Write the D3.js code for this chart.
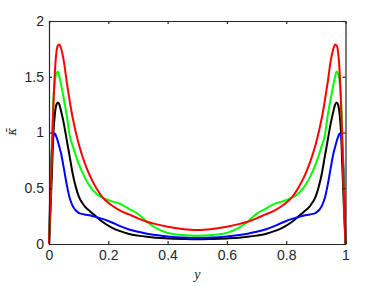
<!DOCTYPE html>
<html>
<head>
<meta charset="utf-8">
<script src="https://cdn.jsdelivr.net/npm/d3@7"></script>
<style>
  html, body { margin: 0; padding: 0; background: #fff; }
  svg { display: block; }
  .axis text { font-family: "Liberation Sans", Arial, sans-serif; font-size: 14px; fill: #262626; }
  .axis path, .axis line { stroke: #262626; stroke-width: 1.2; }
</style>
</head>
<body>
<svg width="382" height="286"></svg>
<script>
// sample positions along y (0..1)
const yPos = [0, 0.005, 0.01, 0.015, 0.02, 0.025, 0.03, 0.035, 0.04, 0.05, 0.06, 0.07, 0.08, 0.1, 0.12, 0.14, 0.16, 0.18, 0.21, 0.24, 0.27, 0.3, 0.33, 0.36, 0.4, 0.45,
              0.5,
              0.55, 0.6, 0.64, 0.67, 0.7, 0.73, 0.76, 0.79, 0.82, 0.84, 0.86, 0.88, 0.9, 0.92, 0.93, 0.94, 0.95, 0.96, 0.965, 0.97, 0.975, 0.98, 0.985, 0.99, 0.995, 1];

const kappaRed = [0, 0.4, 0.85, 1.25, 1.55, 1.72, 1.78, 1.79, 1.76, 1.64, 1.45, 1.28, 1.13, 0.9, 0.73, 0.6, 0.5, 0.42, 0.35, 0.3, 0.265, 0.23, 0.2, 0.178, 0.155, 0.135,
                  0.126,
                  0.135, 0.155, 0.178, 0.2, 0.23, 0.265, 0.3, 0.35, 0.42, 0.5, 0.6, 0.73, 0.9, 1.13, 1.28, 1.45, 1.64, 1.76, 1.79, 1.78, 1.72, 1.55, 1.25, 0.85, 0.4, 0];

const kappaGreen = [0, 0.45, 0.9, 1.3, 1.46, 1.53, 1.545, 1.5, 1.44, 1.3, 1.15, 0.97, 0.88, 0.72, 0.6, 0.51, 0.45, 0.415, 0.385, 0.36, 0.315, 0.27, 0.2, 0.145, 0.1, 0.08,
                    0.073,
                    0.08, 0.1, 0.145, 0.2, 0.27, 0.315, 0.36, 0.385, 0.415, 0.45, 0.51, 0.6, 0.72, 0.88, 0.97, 1.15, 1.3, 1.44, 1.5, 1.545, 1.53, 1.46, 1.3, 0.9, 0.45, 0];

const kappaBlack = [0, 0.3, 0.65, 1.0, 1.17, 1.25, 1.27, 1.25, 1.2, 1.08, 0.93, 0.78, 0.63, 0.43, 0.34, 0.29, 0.245, 0.2, 0.15, 0.115, 0.09, 0.075, 0.064, 0.056, 0.05, 0.045,
                    0.042,
                    0.045, 0.05, 0.056, 0.064, 0.075, 0.09, 0.115, 0.15, 0.2, 0.245, 0.29, 0.34, 0.43, 0.63, 0.78, 0.93, 1.08, 1.2, 1.25, 1.27, 1.25, 1.17, 1.0, 0.65, 0.3, 0];

const kappaBlue = [0, 0.55, 0.85, 0.97, 0.99, 0.96, 0.92, 0.87, 0.82, 0.68, 0.53, 0.41, 0.34, 0.28, 0.265, 0.255, 0.24, 0.225, 0.195, 0.16, 0.13, 0.11, 0.092, 0.08, 0.068, 0.058,
                   0.055,
                   0.058, 0.068, 0.08, 0.092, 0.11, 0.13, 0.16, 0.195, 0.225, 0.24, 0.255, 0.265, 0.28, 0.34, 0.41, 0.53, 0.68, 0.82, 0.87, 0.92, 0.96, 0.99, 0.97, 0.85, 0.55, 0];

const xTicks = [0, 0.2, 0.4, 0.6, 0.8, 1];
const yTicks = [0, 0.5, 1, 1.5, 2];

const series = [
  { name: "black", color: "#000000", values: kappaBlack },
  { name: "blue",  color: "#0000ff", values: kappaBlue },
  { name: "green", color: "#00ff00", values: kappaGreen },
  { name: "red",   color: "#ff0000", values: kappaRed }
];

const svg = d3.select("svg");
const plotLeft = 49, plotRight = 345.5, plotTop = 21, plotBottom = 244;

const x = d3.scaleLinear().domain([0, 1]).range([plotLeft, plotRight]);
const y = d3.scaleLinear().domain([0, 2]).range([plotBottom, plotTop]);

// curves
const line = d3.line()
    .x((d, i) => x(yPos[i]))
    .y(d => y(d))
    .curve(d3.curveMonotoneX);

svg.append("g")
    .selectAll("path")
    .data(series)
    .enter().append("path")
    .attr("d", d => line(d.values))
    .attr("fill", "none")
    .attr("stroke", d => d.color)
    .attr("stroke-width", 2);

// axes, ticks pointing inward on all four sides
svg.append("g")
    .attr("class", "axis")
    .attr("transform", `translate(0,${plotBottom})`)
    .call(d3.axisBottom(x).tickValues(xTicks).tickFormat(d3.format("")).tickSizeInner(-3).tickSizeOuter(0).tickPadding(6));

svg.append("g")
    .attr("class", "axis")
    .attr("transform", `translate(0,${plotTop})`)
    .call(d3.axisTop(x).tickValues(xTicks).tickFormat("").tickSizeInner(-3).tickSizeOuter(0));

svg.append("g")
    .attr("class", "axis")
    .attr("transform", `translate(${plotLeft},0)`)
    .call(d3.axisLeft(y).tickValues(yTicks).tickFormat(d3.format("")).tickSizeInner(-3).tickSizeOuter(0).tickPadding(5));

svg.append("g")
    .attr("class", "axis")
    .attr("transform", `translate(${plotRight},0)`)
    .call(d3.axisRight(y).tickValues(yTicks).tickFormat("").tickSizeInner(-3).tickSizeOuter(0));

// axis labels
svg.append("text")
    .attr("x", (plotLeft + plotRight) / 2)
    .attr("y", 279)
    .attr("text-anchor", "middle")
    .style("font-family", "'Liberation Serif', 'DejaVu Serif', serif")
    .style("font-style", "italic")
    .style("font-size", "14px")
    .attr("fill", "#262626")
    .text("y");

svg.append("text")
    .attr("transform", `translate(16,${(plotTop + plotBottom) / 2 - 1}) rotate(-90)`)
    .attr("text-anchor", "middle")
    .style("font-family", "'DejaVu Serif', 'Liberation Serif', serif")
    .style("font-style", "italic")
    .style("font-size", "12px")
    .attr("fill", "#262626")
    .text("\u03BA\u0304");
</script>
</body>
</html>
